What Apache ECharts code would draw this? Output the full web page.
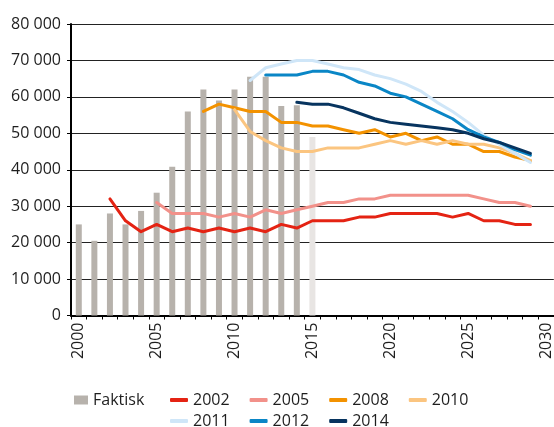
<!DOCTYPE html>
<html>
<head>
<meta charset="utf-8">
<script src="https://cdn.jsdelivr.net/npm/echarts@6/dist/echarts.min.js"></script>
<style>
html,body{margin:0;padding:0;background:#fff;}
#c{width:554px;height:427px;}
</style>
</head>
<body>
<div id="c"></div>
<script>
// Categories (years)
var years = [];
for (var y = 2000; y <= 2030; y++) years.push(String(y));

// Actual values (Faktisk), 2000-2015
var faktisk = [25000, 20500, 28000, 25000, 28700, 33700, 40800, 56000, 62000, 59000, 62000, 65500, 65500, 57500, 57700, 49000];

// Forecast series: start year + values
var s2002Start = 2002;
var s2002 = [32000, 26000, 23000, 25000, 23000, 24000, 23000, 24000, 23000, 24000, 23000, 25000, 24000, 26000, 26000, 26000, 27000, 27000, 28000, 28000, 28000, 28000, 27000, 28000, 26000, 26000, 25000, 25000];
var s2005Start = 2005;
var s2005 = [31000, 28000, 28000, 28000, 27000, 28000, 27000, 29000, 28000, 29000, 30000, 31000, 31000, 32000, 32000, 33000, 33000, 33000, 33000, 33000, 33000, 32000, 31000, 31000, 30000];
var s2008Start = 2008;
var s2008 = [56000, 58000, 57000, 56000, 56000, 53000, 53000, 52000, 52000, 51000, 50000, 51000, 49000, 50000, 48000, 49000, 47000, 47000, 45000, 45000, 43500, 42500];
var s2010Start = 2010;
var s2010 = [56500, 50500, 48000, 46000, 45000, 45000, 46000, 46000, 46000, 47000, 48000, 47000, 48000, 47000, 48000, 47000, 47000, 46000, 44500, 42500];
var s2011Start = 2011;
var s2011 = [64500, 68000, 69000, 70000, 70000, 69000, 68000, 67500, 66000, 65000, 63500, 61500, 58500, 56000, 53000, 49500, 47000, 44500, 42000];
var s2012Start = 2012;
var s2012 = [66000, 66000, 66000, 67000, 67000, 66000, 64000, 63000, 61000, 60000, 58000, 56000, 54000, 51000, 49000, 47500, 45500, 44000];
var s2014Start = 2014;
var s2014 = [58500, 58000, 58000, 57000, 55500, 54000, 53000, 52500, 52000, 51500, 51000, 50000, 48500, 47500, 46000, 44500];

var yTicks = [0, 10000, 20000, 30000, 40000, 50000, 60000, 70000, 80000];

function pad(start, vals) {
  var out = [];
  for (var i = 0; i < years.length; i++) {
    var k = (2000 + i) - start;
    out.push(k >= 0 && k < vals.length ? vals[k] : null);
  }
  return out;
}

var barData = faktisk.map(function (v, i) {
  if (i === faktisk.length - 1) return { value: v, itemStyle: { color: '#e8e5e3' } };
  return v;
});

var FONT = '"Open Sans", "Noto Sans", sans-serif';
var TXT = '#1e1e1e';

function lineSeries(name, color, start, vals) {
  return {
    name: name, type: 'line', data: pad(start, vals), color: color,
    symbol: 'none', showSymbol: false, connectNulls: false,
    lineStyle: { width: 3, color: color, join: 'round', cap: 'round' },
    itemStyle: { color: color },
    z: 3, silent: true, animation: false
  };
}

var chart = echarts.init(document.getElementById('c'), null, { renderer: 'canvas' });
chart.setOption({
  animation: false,
  backgroundColor: '#fff',
  grid: { left: 71, top: 24, width: 484.5, height: 291.5, containLabel: false },
  xAxis: {
    type: 'category', data: years, boundaryGap: true,
    axisLine: { show: true, lineStyle: { color: '#000', width: 2 } },
    axisTick: { show: true, interval: 0, length: 4, lineStyle: { color: '#000', width: 1 } },
    axisLabel: {
      interval: 4, rotate: 90, margin: 7, color: TXT,
      fontFamily: FONT, fontSize: 16
    },
    splitLine: { show: false }
  },
  yAxis: {
    type: 'value', min: yTicks[0], max: yTicks[yTicks.length - 1], interval: 10000,
    axisLine: { show: true, lineStyle: { color: '#000', width: 2 } },
    axisTick: { show: true, length: 4, lineStyle: { color: '#000', width: 1 } },
    axisLabel: {
      margin: 10, color: TXT, fontFamily: FONT, fontSize: 16,
      formatter: function (v) { return String(v).replace(/\B(?=(\d{3})+(?!\d))/g, ' '); }
    },
    splitLine: { show: true, lineStyle: { color: '#222', width: 1 } }
  },
  legend: [
    {
      data: ['Faktisk'], left: 74, top: 392, padding: 0, icon: 'rect', itemWidth: 14, itemHeight: 9,
      itemGap: 20, textStyle: { fontFamily: FONT, fontSize: 16, color: TXT }, selectedMode: false
    },
    {
      data: ['2002', '2005', '2008', '2010'], left: 170, top: 392, padding: 0, icon: 'roundRect',
      itemWidth: 18, itemHeight: 4, itemGap: 20,
      textStyle: { fontFamily: FONT, fontSize: 16, color: TXT }, selectedMode: false
    },
    {
      data: ['2011', '2012', '2014'], left: 170, top: 413, padding: 0, icon: 'roundRect',
      itemWidth: 18, itemHeight: 4, itemGap: 20,
      textStyle: { fontFamily: FONT, fontSize: 16, color: TXT }, selectedMode: false
    }
  ],
  series: [
    {
      name: 'Faktisk', type: 'bar', data: barData, barWidth: 6,
      itemStyle: { color: '#b7b2ac' }, color: '#b7b2ac', z: 2, silent: true
    },
    lineSeries('2002', '#e42313', s2002Start, s2002),
    lineSeries('2005', '#f2918a', s2005Start, s2005),
    lineSeries('2008', '#f39200', s2008Start, s2008),
    lineSeries('2010', '#fbc580', s2010Start, s2010),
    lineSeries('2011', '#cfe6f8', s2011Start, s2011),
    lineSeries('2012', '#0a86c6', s2012Start, s2012),
    lineSeries('2014', '#07345f', s2014Start, s2014)
  ]
});
</script>
</body>
</html>
